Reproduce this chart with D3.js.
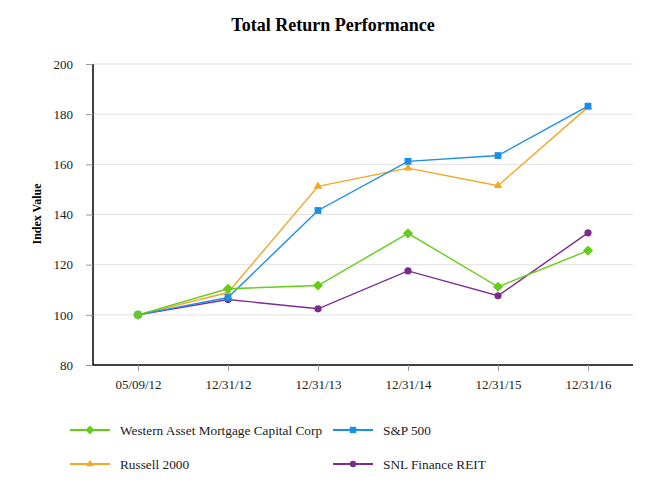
<!DOCTYPE html>
<html><head><meta charset="utf-8">
<script src="https://cdn.jsdelivr.net/npm/d3@7"></script>
<style>body{margin:0;background:#fff}svg{display:block}text{font-family:"Liberation Serif","Times New Roman",serif}</style>
</head><body><svg id="c" width="666" height="500"></svg>
<script>
const categories = ["05/09/12","12/31/12","12/31/13","12/31/14","12/31/15","12/31/16"];
const seriesNames = ["Western Asset Mortgage Capital Corp","S&P 500","Russell 2000","SNL Finance REIT"];
const western = [100, 110.4, 111.7, 132.5, 111.2, 125.6];
const sp500 = [100, 106.9, 141.6, 161.2, 163.5, 183.2];
const russell = [100, 108.9, 151.2, 158.5, 151.5, 182.8];
const snl = [100, 106.1, 102.4, 117.5, 107.6, 132.7];
const yTicks = [80,100,120,140,160,180,200];

const colors = ["#66CC19","#1A8FE8","#F5A623","#7B2D8E"];
const data = [western, sp500, russell, snl];
const FONT = "'Liberation Serif','Times New Roman',serif";

const svg = d3.select("#c");
const m = {l:93, r:633, t:64, b:365};
const x = d3.scalePoint().domain(categories).range([m.l, m.r]).padding(0.5);
const y = d3.scaleLinear().domain([80,200]).range([m.b, m.t]);

function marker(sel, k, scale){
  if(k===0) sel.append("rect").attr("x",-4*scale).attr("y",-4*scale).attr("width",8*scale).attr("height",8*scale).attr("transform","rotate(45)");
  else if(k===1) sel.append("rect").attr("x",-4*scale).attr("y",-4*scale).attr("width",8*scale).attr("height",8*scale);
  else if(k===2) sel.append("path").attr("d",d3.symbol(d3.symbolTriangle, 38*scale*scale)());
  else sel.append("circle").attr("r",4*scale);
  sel.attr("fill",colors[k]);
}

svg.append("text").attr("x",333).attr("y",31).attr("text-anchor","middle")
  .attr("font-size",18).attr("font-weight","bold").style("font-family",FONT).text("Total Return Performance");

svg.append("g").selectAll("line").data(yTicks.filter(d=>d>80)).join("line")
  .attr("x1",m.l).attr("x2",m.r).attr("y1",d=>y(d)).attr("y2",d=>y(d))
  .attr("stroke","#e3e3e3").attr("stroke-width",1);

const ya = svg.append("g").attr("transform",`translate(${m.l},0)`)
  .call(d3.axisLeft(y).tickValues(yTicks).tickSize(7).tickPadding(13));
ya.attr("font-family",FONT);
ya.select(".domain").attr("stroke","#000").attr("stroke-width",1.5).attr("d",`M0,${m.t}V${m.b}`);
ya.selectAll(".tick line").attr("stroke","#999");
ya.selectAll(".tick text").attr("font-size",13).attr("fill","#222").style("font-family",FONT);

const xa = svg.append("g").attr("transform",`translate(0,${m.b})`)
  .call(d3.axisBottom(x).tickSize(6).tickPadding(9));
xa.attr("font-family",FONT);
xa.select(".domain").attr("stroke","#000").attr("stroke-width",1.5).attr("d",`M${m.l},0H${m.r}`);
xa.selectAll(".tick line").attr("stroke","#999");
xa.selectAll(".tick text").attr("font-size",13).attr("fill","#222").style("font-family",FONT);

svg.append("text").attr("transform","translate(41,214) rotate(-90)").attr("text-anchor","middle")
  .attr("font-size",12).attr("font-weight","bold").style("font-family",FONT).text("Index Value");

const line = d3.line().x((d,i)=>x(categories[i])).y(d=>y(d));
const drawOrder = [3,2,1,0];
drawOrder.forEach(k=>{
  svg.append("path").datum(data[k]).attr("d",line).attr("fill","none")
    .attr("stroke",colors[k]).attr("stroke-width",1.4);
});
drawOrder.forEach(k=>{
  svg.append("g").selectAll("g").data(data[k]).join("g")
    .attr("transform",(d,i)=>`translate(${x(categories[i])},${y(d)})`)
    .each(function(){ marker(d3.select(this), k, k===0?0.9:(k===1?0.85:0.9)); });
});

const legPos = [[70,430],[333,430],[70,464],[333,464]];
seriesNames.forEach((n,k)=>{
  const [lx,ly] = legPos[k];
  const g = svg.append("g").attr("transform",`translate(${lx},${ly})`);
  g.append("line").attr("x1",0).attr("x2",40).attr("stroke",colors[k]).attr("stroke-width",2);
  marker(g.append("g").attr("transform","translate(20,0)"), k, 0.8);
  g.append("text").attr("x",50).attr("y",4.5).attr("font-size",13.3).attr("fill","#222").style("font-family",FONT).text(n);
});
</script></body></html>
